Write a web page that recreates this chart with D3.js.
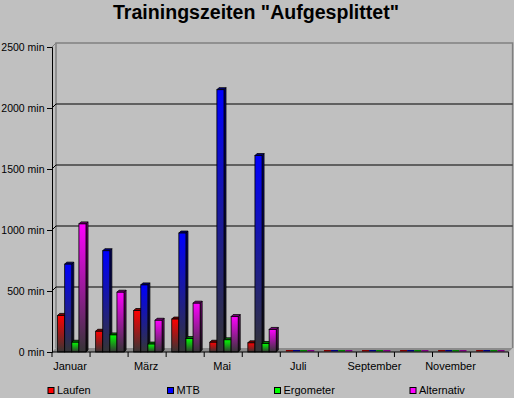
<!DOCTYPE html>
<html>
<head>
<meta charset="utf-8">
<script src="https://cdn.jsdelivr.net/npm/d3@7"></script>
<style>
  body { margin: 0; background: #c0c0c0; }
  svg { display: block; font-family: Arial, "Liberation Sans", sans-serif; }
</style>
</head>
<body>
<svg id="chart" width="514" height="398"></svg>
<script>
const months = ["Januar", "Februar", "März", "April", "Mai", "Juni", "Juli", "August", "September", "Oktober", "November", "Dezember"]
const series = ["Laufen", "MTB", "Ergometer", "Alternativ"]
const laufen = [300, 170, 340, 270, 80, 75, 0, 0, 0, 0, 0, 0]
const mtb = [720, 830, 550, 975, 2150, 1610, 0, 0, 0, 0, 0, 0]
const ergometer = [80, 140, 65, 110, 100, 70, 0, 0, 0, 0, 0, 0]
const alternativ = [1050, 490, 260, 400, 290, 185, 0, 0, 0, 0, 0, 0]
const yTicks = [0, 500, 1000, 1500, 2000, 2500]

const values = [laufen, mtb, ergometer, alternativ]
const colors = ["#ff0000", "#0000ff", "#00ff00", "#ff00ff"]
const sideColors = ["#800000", "#000080", "#008000", "#800080"]

const svg = d3.select("#chart")
const dx = 4, dy = -4      // wall depth
const bdx = 2, bdy = -2    // bar depth

const x = d3.scaleBand().domain(months).range([52, 508.6])
const xs = d3.scaleBand().domain(series).range([5.6, 5.6 + 28.4])
const y = d3.scaleLinear().domain([0, 2500]).range([352, 47])

// gradients
const defs = svg.append("defs")
series.forEach((s, i) => {
  const g = defs.append("linearGradient").attr("id", "g" + i)
    .attr("x1", 0).attr("y1", 0).attr("x2", 0).attr("y2", 1)
  g.append("stop").attr("offset", 0).attr("stop-color", colors[i])
  g.append("stop").attr("offset", 1).attr("stop-color", "#353535")
  const h = defs.append("linearGradient").attr("id", "h" + i)
    .attr("x1", 0).attr("y1", 0).attr("x2", 0).attr("y2", 1)
  h.append("stop").attr("offset", 0).attr("stop-color", sideColors[i])
  h.append("stop").attr("offset", 1).attr("stop-color", "#1a1a1a")
})

// title
svg.append("text")
  .attr("x", 256).attr("y", 19)
  .attr("text-anchor", "middle")
  .attr("font-size", 20).attr("font-weight", "bold")
  .attr("textLength", 286).attr("lengthAdjust", "spacingAndGlyphs")
  .text('Trainingszeiten "Aufgesplittet"')

const x0 = x.range()[0], x1 = x.range()[1]

// floor
svg.append("path")
  .attr("d", `M${x0},${y(0)}L${x0 + dx},${y(0) + dy}L${x1 + dx},${y(0) + dy}L${x1},${y(0)}Z`)
  .attr("fill", "#8c8c8c")

// walls: left line, top and right border
svg.append("path")
  .attr("d", `M${x0 + dx},${y(0) + dy}V${y(2500) + dy}H${x1 + dx}V${y(0) + dy}`)
  .attr("fill", "none").attr("stroke", "#808080").attr("stroke-width", 1.5)
svg.append("path")
  .attr("d", `M${x0},${y(2500)}L${x0 + dx},${y(2500) + dy}`)
  .attr("fill", "none").attr("stroke", "#808080")

// gridlines on back wall
svg.append("g").selectAll("path")
  .data(yTicks.filter(d => d > 0 && d < 2500))
  .join("path")
  .attr("d", d => `M${x0},${y(d)}L${x0 + dx},${y(d) + dy}H${x1 + dx}`)
  .attr("fill", "none").attr("stroke", "#000").attr("stroke-width", 1)

// bars
months.forEach((m, mi) => {
  const g = svg.append("g")
  series.forEach((s, si) => {
    const v = values[si][mi]
    const bx = x(m) + xs(s), w = xs.bandwidth()
    const yb = y(0), yt = y(v)
    if (v === 0) {
      g.append("rect")
        .attr("x", bx).attr("y", yb - 2).attr("width", w).attr("height", 1.5)
        .attr("fill", sideColors[si])
      return
    }
    g.append("path")
      .attr("d", `M${bx + w},${yt}L${bx + w + bdx},${yt + bdy}V${yb + bdy}L${bx + w},${yb}Z`)
      .attr("fill", `url(#h${si})`).attr("stroke", "#000").attr("stroke-width", 0.8)
    g.append("path")
      .attr("d", `M${bx},${yt}L${bx + bdx},${yt + bdy}H${bx + w + bdx}L${bx + w},${yt}Z`)
      .attr("fill", sideColors[si]).attr("stroke", "#000").attr("stroke-width", 0.8)
    g.append("rect")
      .attr("x", bx).attr("y", yt).attr("width", w).attr("height", yb - yt)
      .attr("fill", `url(#g${si})`).attr("stroke", "#000").attr("stroke-width", 0.8)
  })
})

// y axis
const yAxis = svg.append("g")
  .attr("transform", `translate(${x0},0)`)
  .call(d3.axisLeft(y).tickValues(yTicks).tickFormat(d => d + " min").tickSize(5).tickPadding(2.5))
yAxis.select(".domain").attr("stroke", "#000")
yAxis.selectAll("text").attr("font-size", 10.5).attr("font-family", "Arial, 'Liberation Sans', sans-serif").attr("fill", "#000")

// x axis: line and ticks at category borders
svg.append("line")
  .attr("x1", x0).attr("x2", x1).attr("y1", y(0)).attr("y2", y(0))
  .attr("stroke", "#000")
svg.append("g").selectAll("line")
  .data(months.map(m => x(m)).concat([x1]))
  .join("line")
  .attr("x1", d => d).attr("x2", d => d)
  .attr("y1", y(0)).attr("y2", y(0) + 5)
  .attr("stroke", "#000")
svg.append("g").selectAll("text")
  .data(months.filter((m, i) => i % 2 === 0))
  .join("text")
  .attr("x", d => x(d) + x.bandwidth() / 2 - 1)
  .attr("y", 370)
  .attr("text-anchor", "middle")
  .attr("font-size", 11)
  .text(d => d)

// legend
const legendX = [48, 167.5, 274.5, 410]
const legend = svg.append("g").selectAll("g")
  .data(series)
  .join("g")
  .attr("transform", (d, i) => `translate(${legendX[i]},387.5)`)
legend.append("rect")
  .attr("width", 6).attr("height", 6)
  .attr("fill", (d, i) => colors[i])
  .attr("stroke", "#000")
legend.append("text")
  .attr("x", 9).attr("y", 6.5)
  .attr("font-size", 11)
  .text(d => d)
</script>
</body>
</html>
